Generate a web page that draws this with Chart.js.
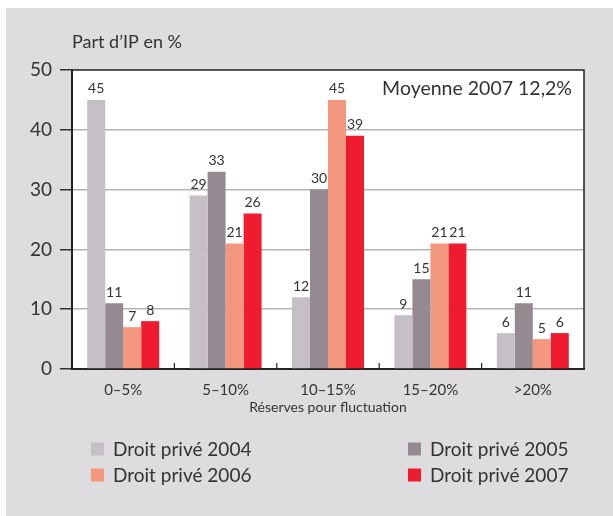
<!DOCTYPE html>
<html>
<head>
<meta charset="utf-8">
<script src="https://cdn.jsdelivr.net/npm/chart.js@4"></script>
<style>
  html, body { margin: 0; padding: 0; background: #fff; }
  #c { display: block; }
</style>
</head>
<body>
<canvas id="c" width="613" height="516"></canvas>
<script>
// Données
const categories = ['0–5%', '5–10%', '10–15%', '15–20%', '>20%'];
const seriesNames = ['Droit privé 2004', 'Droit privé 2005', 'Droit privé 2006', 'Droit privé 2007'];
const droit2004 = [45, 29, 12, 9, 6];
const droit2005 = [11, 33, 30, 15, 11];
const droit2006 = [7, 21, 45, 21, 5];
const droit2007 = [8, 26, 39, 21, 6];
const yTicks = [0, 10, 20, 30, 40, 50];

const colors = ['#c5bfc6', '#958a91', '#f4977f', '#ee1c2e'];
const textColor = '#333333';
const FONT = 'Lato, "Open Sans", sans-serif';

// Fond gris, cadre, petites graduations, étiquettes et légende
const decorPlugin = {
  id: 'decor',
  beforeDraw(chart) {
    const ctx = chart.ctx;
    const a = chart.chartArea;
    ctx.save();
    ctx.fillStyle = '#dfdcdf';
    ctx.fillRect(6, 8, chart.width - 6, chart.height - 8);
    ctx.fillStyle = '#ffffff';
    ctx.fillRect(a.left, a.top, a.right - a.left, a.bottom - a.top);
    ctx.restore();
  },
  afterDraw(chart) {
    const ctx = chart.ctx;
    const a = chart.chartArea;
    const x = chart.scales.x;
    ctx.save();

    // cadre haut et droit
    ctx.strokeStyle = '#222';
    ctx.lineWidth = 1.5;
    ctx.beginPath();
    ctx.moveTo(a.left, a.top);
    ctx.lineTo(a.right, a.top);
    ctx.lineTo(a.right, a.bottom);
    ctx.stroke();

    // petites graduations entre les catégories
    ctx.lineWidth = 1.2;
    for (let i = 1; i < categories.length; i++) {
      const px = (x.getPixelForValue(i - 1) + x.getPixelForValue(i)) / 2;
      ctx.beginPath();
      ctx.moveTo(px, a.bottom);
      ctx.lineTo(px, a.bottom - 6);
      ctx.stroke();
    }

    // valeurs au-dessus des barres
    ctx.fillStyle = textColor;
    ctx.font = '14px ' + FONT;
    ctx.textAlign = 'center';
    ctx.textBaseline = 'bottom';
    chart.data.datasets.forEach((ds, di) => {
      chart.getDatasetMeta(di).data.forEach((bar, i) => {
        ctx.fillText(String(ds.data[i]), bar.x, bar.y - 4);
      });
    });

    // titre de l'axe y
    ctx.textAlign = 'left';
    ctx.textBaseline = 'middle';
    ctx.font = '18px ' + FONT;
    ctx.fillText('Part d\u2019IP en %', 72, 42);

    // moyenne
    ctx.textAlign = 'right';
    ctx.font = '19.5px ' + FONT;
    ctx.fillText('Moyenne 2007 12,2%', 572, 89);

    // légende en deux colonnes
    ctx.textAlign = 'left';
    ctx.font = '19px ' + FONT;
    const cols = [91, 408];
    const rows = [449, 475];
    chart.data.datasets.forEach((ds, di) => {
      const cx = cols[di % 2];
      const cy = rows[Math.floor(di / 2)];
      ctx.fillStyle = ds.backgroundColor;
      ctx.fillRect(cx, cy - 6.5, 13, 13);
      ctx.fillStyle = textColor;
      ctx.fillText(ds.label, cx + 22, cy + 1);
    });
    ctx.restore();
  }
};

const datasets = [droit2004, droit2005, droit2006, droit2007].map((d, i) => ({
  label: seriesNames[i],
  data: d,
  backgroundColor: colors[i],
  borderWidth: 0,
  barPercentage: 1,
  categoryPercentage: 0.703
}));

new Chart(document.getElementById('c'), {
  type: 'bar',
  data: { labels: categories, datasets: datasets },
  plugins: [decorPlugin],
  options: {
    responsive: false,
    animation: false,
    devicePixelRatio: 1,
    layout: { padding: { top: 70, right: 29, left: 0, bottom: 100 } },
    plugins: {
      legend: { display: false },
      tooltip: { enabled: false }
    },
    scales: {
      x: {
        afterFit(s) { s.height = 47; },
        grid: { display: false, drawTicks: false },
        border: { display: true, color: '#222', width: 2 },
        ticks: { color: textColor, font: { family: FONT, size: 15 }, padding: 12 },
        title: {
          display: true,
          text: 'Réserves pour fluctuation',
          color: textColor,
          font: { family: FONT, size: 14 },
          padding: 0
        }
      },
      y: {
        min: 0,
        max: 50,
        afterFit(s) { s.width = 72; },
        afterBuildTicks(s) { s.ticks = yTicks.map(v => ({ value: v })); },
        grid: {
          color: c => (c.tick && (c.tick.value === 0 || c.tick.value === 50)) ? 'rgba(0,0,0,0)' : '#b4b4b4',
          tickColor: '#333',
          tickLength: 12,
          lineWidth: 1.5
        },
        border: { display: true, color: '#222', width: 2 },
        ticks: { color: textColor, font: { family: FONT, size: 19 }, padding: 8 }
      }
    }
  }
});
</script>
</body>
</html>
